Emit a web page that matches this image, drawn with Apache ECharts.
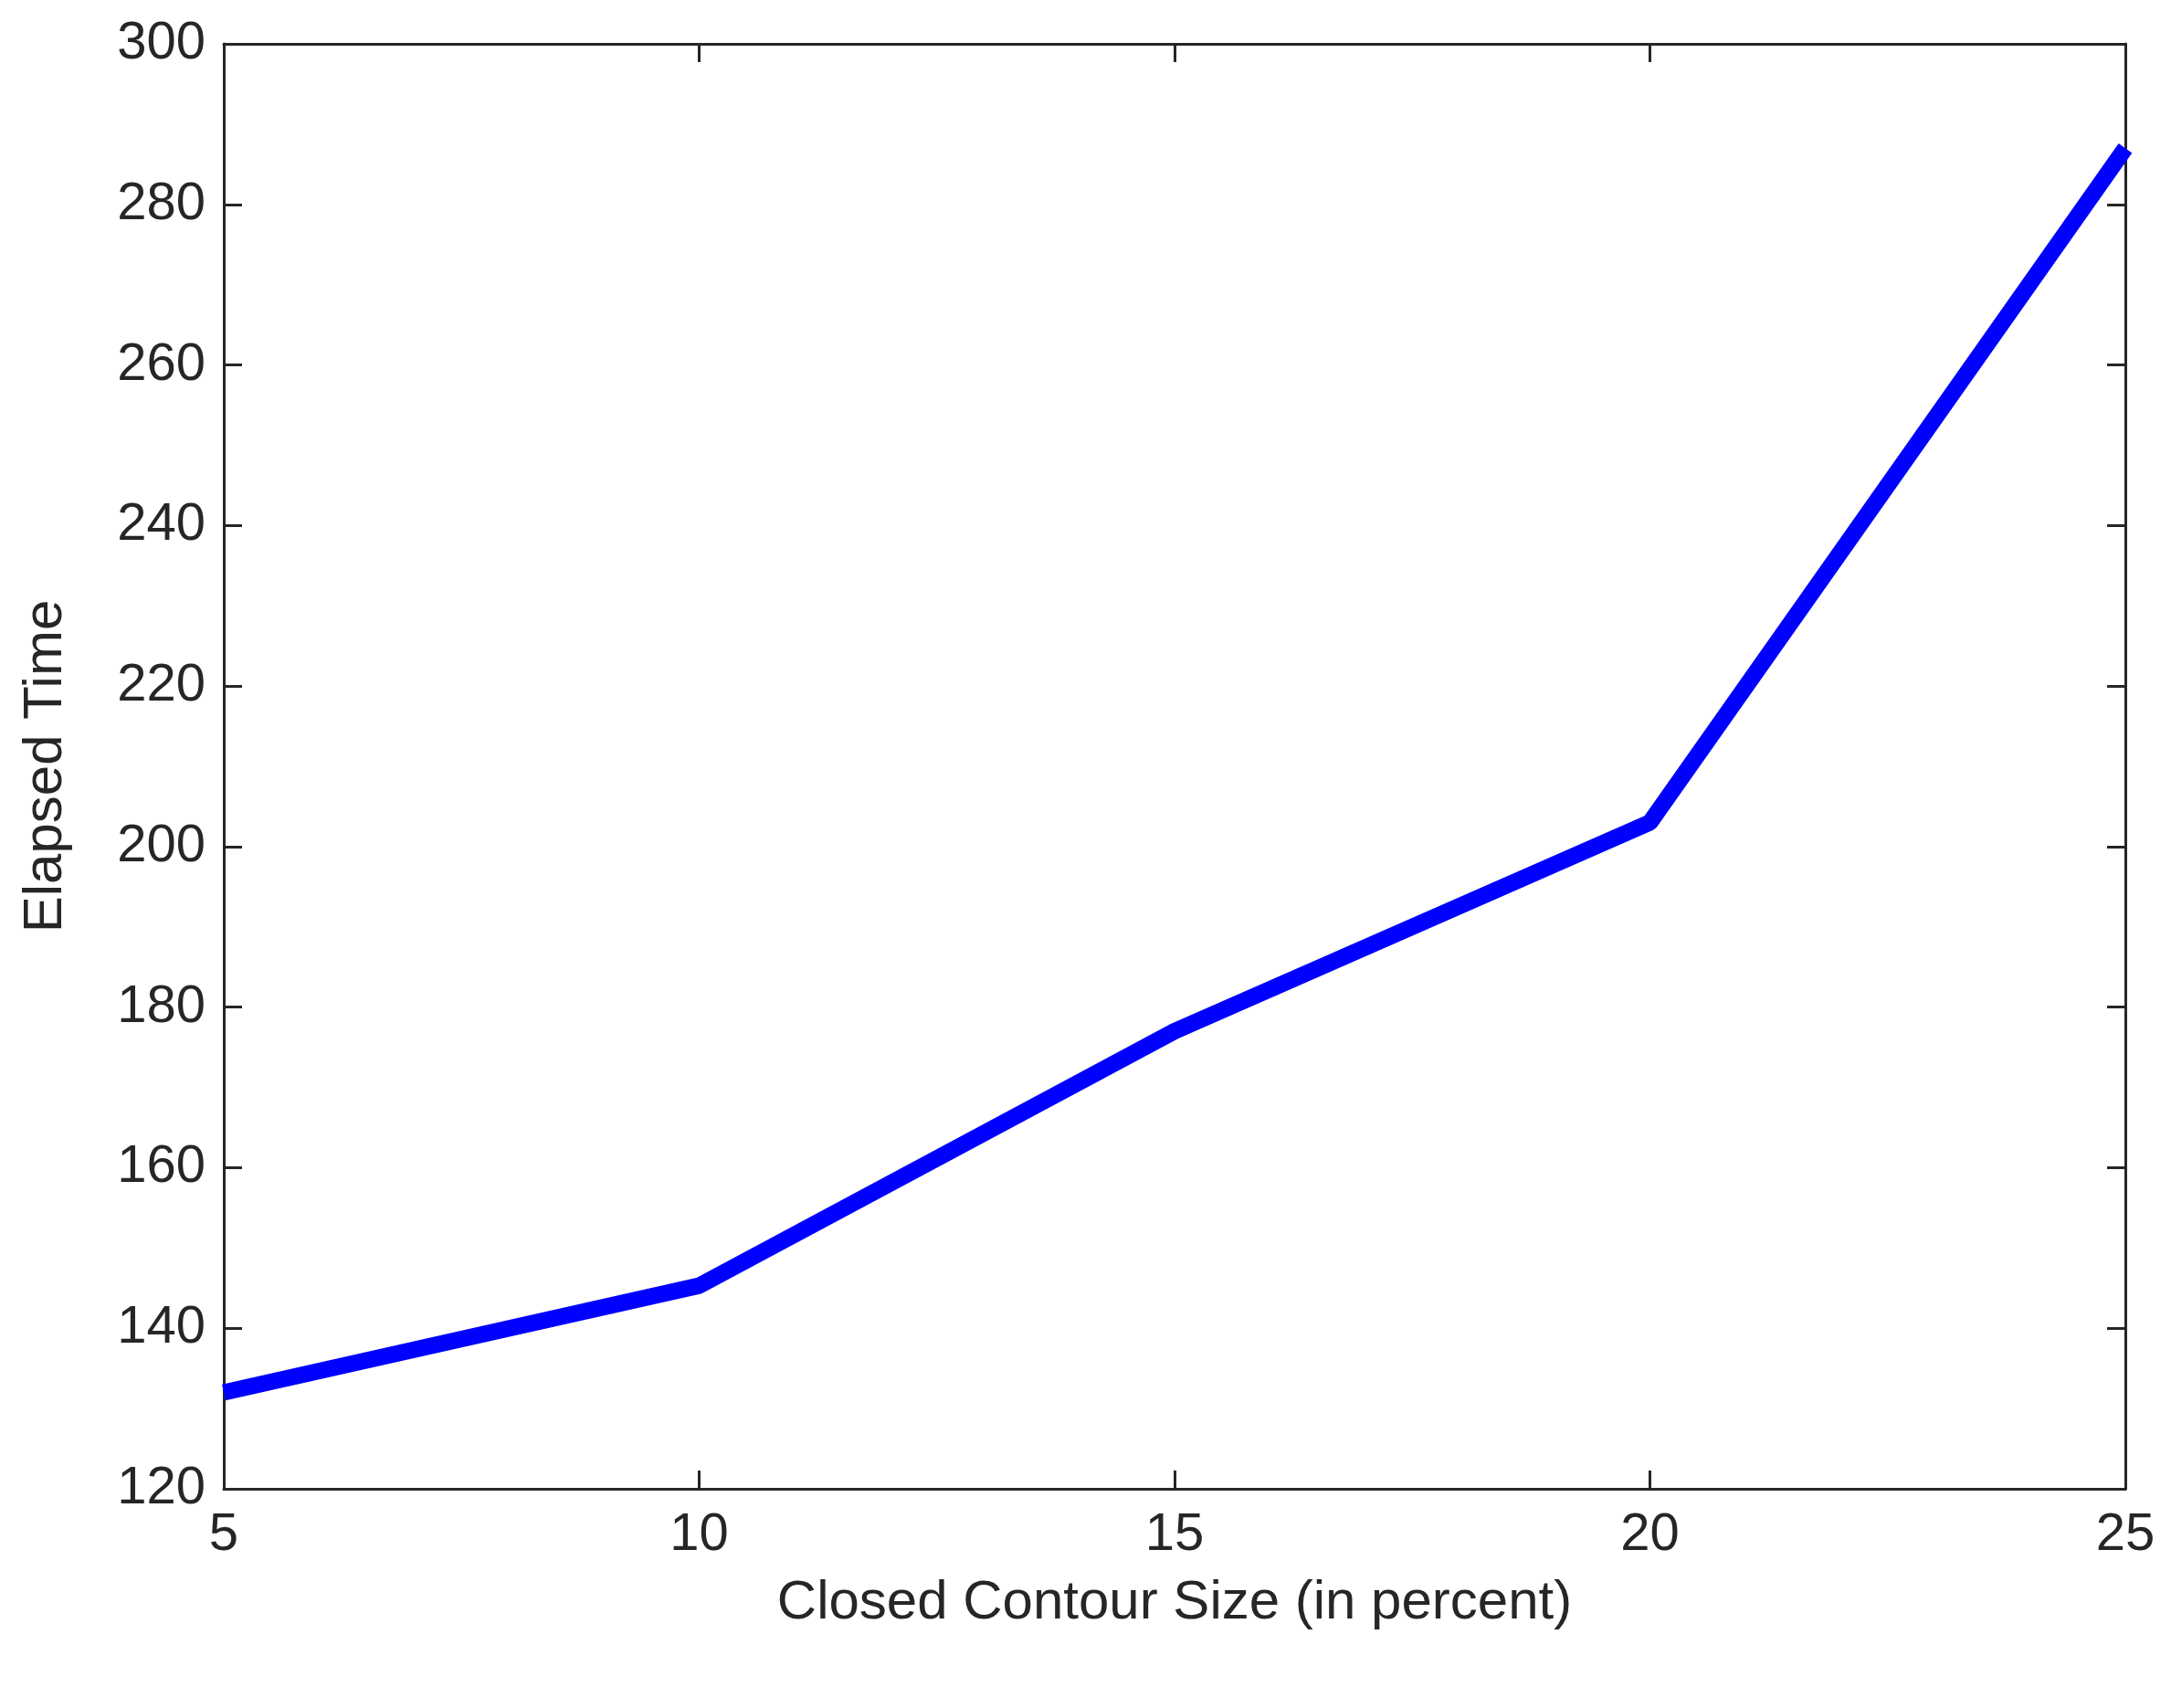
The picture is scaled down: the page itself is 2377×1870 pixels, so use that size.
<!DOCTYPE html>
<html>
<head>
<meta charset="utf-8">
<script src="https://cdn.jsdelivr.net/npm/echarts@6/dist/echarts.min.js"></script>
<style>html,body{margin:0;padding:0;background:#fff}#chart{width:2377px;height:1870px}</style>
</head>
<body>
<div id="chart"></div>
<script>
var contourSize = [5, 10, 15, 20, 25];
var elapsedTime = [132, 145.3, 177, 203, 287];
var xName = 'Closed Contour Size (in percent)';
var yName = 'Elapsed Time';

var points = contourSize.map(function (x, i) { return [x, elapsedTime[i]]; });
var axisColor = '#262626';
var font = 'Arial, "Liberation Sans", sans-serif';

function xAxis(pos, show) {
    return {
        type: 'value', position: pos, min: 5, max: 25, interval: 5,
        name: show ? xName : '', nameLocation: 'middle', nameGap: 95,
        nameTextStyle: { fontSize: 60, color: axisColor, fontFamily: font },
        axisLine: { lineStyle: { color: axisColor, width: 3 } },
        axisTick: { inside: true, length: 20, lineStyle: { color: axisColor, width: 3 } },
        axisLabel: { show: show, fontSize: 58, color: axisColor, fontFamily: font, margin: 22 },
        splitLine: { show: false }
    };
}
function yAxis(pos, show) {
    return {
        type: 'value', position: pos, min: 120, max: 300, interval: 20,
        name: show ? yName : '', nameLocation: 'middle', nameGap: 165,
        nameTextStyle: { fontSize: 60, color: axisColor, fontFamily: font },
        axisLine: { lineStyle: { color: axisColor, width: 3 } },
        axisTick: { inside: true, length: 20, lineStyle: { color: axisColor, width: 3 } },
        axisLabel: { show: show, fontSize: 58, color: axisColor, fontFamily: font, margin: 20 },
        splitLine: { show: false }
    };
}

var myChart = echarts.init(document.getElementById('chart'));
myChart.setOption({
    animation: false,
    grid: { left: 245, right: 50, top: 48, bottom: 240 },
    xAxis: [xAxis('bottom', true), xAxis('top', false)],
    yAxis: [yAxis('left', true), yAxis('right', false)],
    series: [{
        type: 'line',
        data: points,
        symbol: 'none',
        lineStyle: { color: '#0000ff', width: 18 }
    }]
});
</script>
</body>
</html>
